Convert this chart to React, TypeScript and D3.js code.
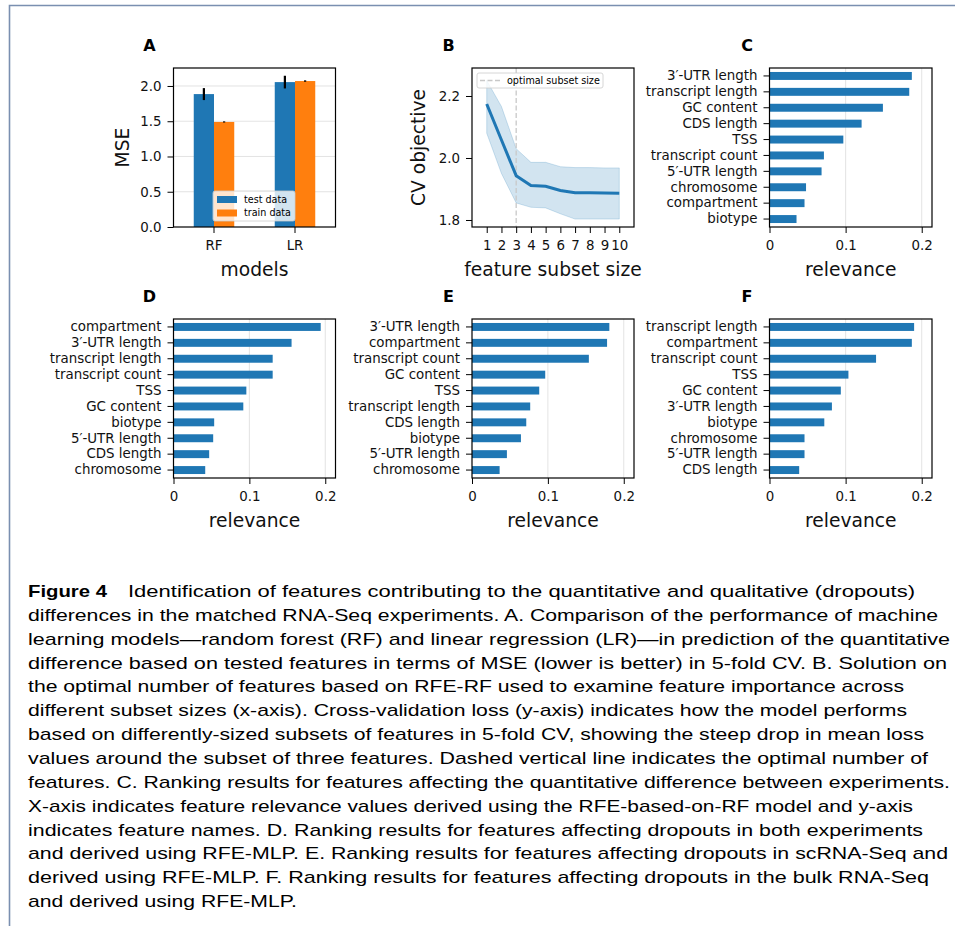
import React, { useEffect, useRef } from 'react';
import * as d3 from 'd3';

// panel A: MSE per model
const models = ['RF', 'LR'];
const mseSeries = ['test data', 'train data'];
const mseTest = [1.885, 2.055];
const mseTestErr = [0.085, 0.09];
const mseTrain = [1.49, 2.07];
const mseTrainErr = [0.008, 0.01];
const mseTicks = [0, 0.5, 1, 1.5, 2];

// panel B: CV objective vs subset size
const subsetSizes = [1, 2, 3, 4, 5, 6, 7, 8, 9, 10];
const cvMean = [2.174, 2.058, 1.943, 1.911, 1.909, 1.895, 1.888, 1.888, 1.887, 1.886];
const cvUpper = [2.25, 2.166, 2.03, 1.986, 1.986, 1.972, 1.969, 1.969, 1.968, 1.968];
const cvLower = [2.08, 1.95, 1.855, 1.841, 1.839, 1.82, 1.803, 1.803, 1.803, 1.803];
const cvTicks = [1.8, 2.0, 2.2];
const optimalSize = 3;

// panels C-F: feature relevance
const cNames = ['3′-UTR length', 'transcript length', 'GC content', 'CDS length', 'TSS', 'transcript count', '5′-UTR length', 'chromosome', 'compartment', 'biotype'];
const cValues = [0.187, 0.1836, 0.149, 0.121, 0.097, 0.0715, 0.0684, 0.048, 0.046, 0.0355];
const dNames = ['compartment', '3′-UTR length', 'transcript length', 'transcript count', 'TSS', 'GC content', 'biotype', '5′-UTR length', 'CDS length', 'chromosome'];
const dValues = [0.194, 0.1556, 0.1307, 0.1307, 0.096, 0.092, 0.0536, 0.0523, 0.047, 0.0418];
const eNames = ['3′-UTR length', 'compartment', 'transcript count', 'GC content', 'TSS', 'transcript length', 'CDS length', 'biotype', '5′-UTR length', 'chromosome'];
const eValues = [0.181, 0.178, 0.154, 0.0965, 0.0886, 0.0767, 0.0715, 0.0645, 0.046, 0.0364];
const fNames = ['transcript length', 'compartment', 'transcript count', 'TSS', 'GC content', '3′-UTR length', 'biotype', 'chromosome', '5′-UTR length', 'CDS length'];
const fValues = [0.19, 0.187, 0.14, 0.1037, 0.0937, 0.082, 0.072, 0.046, 0.046, 0.039];
const relTicks = [0, 0.1, 0.2];

const captionLines = [
  'Identification of features contributing to the quantitative and qualitative (dropouts)',
  'differences in the matched RNA-Seq experiments. A. Comparison of the performance of machine',
  'learning models—random forest (RF) and linear regression (LR)—in prediction of the quantitative',
  'difference based on tested features in terms of MSE (lower is better) in 5-fold CV. B. Solution on',
  'the optimal number of features based on RFE-RF used to examine feature importance across',
  'different subset sizes (x-axis). Cross-validation loss (y-axis) indicates how the model performs',
  'based on differently-sized subsets of features in 5-fold CV, showing the steep drop in mean loss',
  'values around the subset of three features. Dashed vertical line indicates the optimal number of',
  'features. C. Ranking results for features affecting the quantitative difference between experiments.',
  'X-axis indicates feature relevance values derived using the RFE-based-on-RF model and y-axis',
  'indicates feature names. D. Ranking results for features affecting dropouts in both experiments',
  'and derived using RFE-MLP. E. Ranking results for features affecting dropouts in scRNA-Seq and',
  'derived using RFE-MLP. F. Ranking results for features affecting dropouts in the bulk RNA-Seq',
  'and derived using RFE-MLP.',
];
// right end of each caption line in pixels (layout only)
const captionEnds = [915, 938, 950, 947, 904, 907, 924, 928, 950, 913, 923, 948, 929, 297];

const FONT = 'DejaVu Sans, sans-serif';
const BLUE = '#1f77b4';
const ORANGE = '#ff7f0e';
const COLS = [[173.5, 335.5], [472, 634], [769.5, 932]];
const ROWS = [[68, 227], [319, 478]];
const TITLE_X = [149.5, 448.5, 747];
const TITLE_Y = [51, 302];
const REL_MAX = 0.2135;

type Sel = d3.Selection<any, unknown, null, undefined>;

function styleAxis(g: Sel) {
  g.attr('font-family', FONT).attr('font-size', 13.4);
  g.select('.domain').remove();
  g.selectAll('line').attr('stroke', '#000').attr('stroke-width', 1);
  g.selectAll('text').attr('fill', '#111');
}

function frame(svg: Sel, col: number[], row: number[]) {
  svg.append('rect').attr('x', col[0]).attr('y', row[0]).attr('width', col[1] - col[0]).attr('height', row[1] - row[0])
    .attr('fill', 'none').attr('stroke', '#000').attr('stroke-width', 1.2);
}

function title(svg: Sel, x: number, y: number, t: string) {
  svg.append('text').attr('x', x).attr('y', y).attr('text-anchor', 'middle').attr('font-family', FONT)
    .attr('font-weight', 'bold').attr('font-size', 16).text(t);
}

function xLabel(svg: Sel, x: number, y: number, t: string) {
  svg.append('text').attr('x', x).attr('y', y).attr('text-anchor', 'middle').attr('font-family', FONT)
    .attr('font-size', 18.7).attr('fill', '#111').text(t);
}

function yLabel(svg: Sel, x: number, y: number, t: string) {
  svg.append('text').attr('transform', `translate(${x},${y}) rotate(-90)`).attr('text-anchor', 'middle')
    .attr('font-family', FONT).attr('font-size', 18.7).attr('fill', '#111').text(t);
}

function drawMse(svg: Sel) {
  const [x0, x1] = COLS[0];
  const [y0, y1] = ROWS[0];
  const x = d3.scaleBand().domain(models).range([x0, x1]);
  const step = x.step();
  const sub = d3.scaleBand().domain(mseSeries).range([step * 0.25, step * 0.75]);
  const y = d3.scaleLinear().domain([0, 2.255]).range([y1, y0]);
  const g = svg.append('g');

  g.selectAll('.grid').data(mseTicks.slice(1)).join('line').attr('class', 'grid')
    .attr('x1', x0).attr('x2', x1).attr('y1', d => y(d)).attr('y2', d => y(d))
    .attr('stroke', '#b0b0b0').attr('stroke-opacity', 0.35).attr('stroke-width', 1);

  const rows = models.map((m, i) => [
    { m, s: mseSeries[0], v: mseTest[i], e: mseTestErr[i], c: BLUE },
    { m, s: mseSeries[1], v: mseTrain[i], e: mseTrainErr[i], c: ORANGE },
  ]).flat();

  g.selectAll('.bar').data(rows).join('rect').attr('class', 'bar')
    .attr('x', d => x(d.m)! + sub(d.s)!).attr('width', sub.bandwidth())
    .attr('y', d => y(d.v)).attr('height', d => y(0) - y(d.v)).attr('fill', d => d.c);

  g.selectAll('.err').data(rows).join('line').attr('class', 'err')
    .attr('x1', d => x(d.m)! + sub(d.s)! + sub.bandwidth() / 2).attr('x2', d => x(d.m)! + sub(d.s)! + sub.bandwidth() / 2)
    .attr('y1', d => y(d.v - d.e)).attr('y2', d => y(d.v + d.e)).attr('stroke', '#000').attr('stroke-width', 2.2);

  g.append('g').attr('transform', `translate(0,${y1})`)
    .call(d3.axisBottom(x).tickSize(6).tickPadding(7)).call(styleAxis);
  g.append('g').attr('transform', `translate(${x0},0)`)
    .call(d3.axisLeft(y).tickValues(mseTicks).tickFormat(d3.format('.1f')).tickSize(6).tickPadding(6)).call(styleAxis);

  // legend
  const lg = g.append('g');
  lg.append('rect').attr('x', 213).attr('y', 191).attr('width', 82).attr('height', 30).attr('rx', 2)
    .attr('fill', '#fff').attr('fill-opacity', 0.8).attr('stroke', '#cccccc').attr('stroke-width', 0.8);
  mseSeries.forEach((s, i) => {
    lg.append('rect').attr('x', 217).attr('y', 196 + i * 13.5).attr('width', 20).attr('height', 7)
      .attr('fill', i === 0 ? BLUE : ORANGE);
    lg.append('text').attr('x', 244).attr('y', 202.5 + i * 13.5).attr('font-family', FONT)
      .attr('font-size', 9.6).text(s);
  });

  frame(svg, COLS[0], ROWS[0]);
  title(svg, TITLE_X[0], TITLE_Y[0], 'A');
  xLabel(svg, (x0 + x1) / 2, 276, 'models');
  yLabel(svg, 128.5, (y0 + y1) / 2, 'MSE');
}

function drawCv(svg: Sel) {
  const [x0, x1] = COLS[1];
  const [y0, y1] = ROWS[0];
  const x = d3.scaleLinear().domain([0, 11]).range([x0, x1]);
  const y = d3.scaleLinear().domain([1.7774, 2.2903]).range([y1, y0]);
  const g = svg.append('g');
  const idx = d3.range(subsetSizes.length);

  const area = d3.area<number>().x(i => x(subsetSizes[i])).y0(i => y(cvLower[i])).y1(i => y(cvUpper[i]));
  g.append('path').attr('d', area(idx)).attr('fill', BLUE).attr('fill-opacity', 0.2)
    .attr('stroke', BLUE).attr('stroke-opacity', 0.2).attr('stroke-width', 1);

  g.append('line').attr('x1', x(optimalSize)).attr('x2', x(optimalSize)).attr('y1', y0).attr('y2', y1)
    .attr('stroke', '#c8c8c8').attr('stroke-width', 1.3).attr('stroke-dasharray', '5,2.5');

  const line = d3.line<number>().x(i => x(subsetSizes[i])).y(i => y(cvMean[i]));
  g.append('path').attr('d', line(idx)).attr('fill', 'none').attr('stroke', BLUE).attr('stroke-width', 3);

  g.append('g').attr('transform', `translate(0,${y1})`)
    .call(d3.axisBottom(x).tickValues(subsetSizes).tickFormat(d3.format('d')).tickSize(6).tickPadding(7)).call(styleAxis);
  g.append('g').attr('transform', `translate(${x0},0)`)
    .call(d3.axisLeft(y).tickValues(cvTicks).tickFormat(d3.format('.1f')).tickSize(6).tickPadding(6)).call(styleAxis);

  const lg = g.append('g');
  lg.append('rect').attr('x', 477).attr('y', 73).attr('width', 126).attr('height', 15).attr('rx', 2)
    .attr('fill', '#fff').attr('fill-opacity', 0.8).attr('stroke', '#cccccc').attr('stroke-width', 0.8);
  lg.append('line').attr('x1', 480).attr('x2', 500).attr('y1', 80.5).attr('y2', 80.5)
    .attr('stroke', '#c8c8c8').attr('stroke-width', 1.3).attr('stroke-dasharray', '5,2.5');
  lg.append('text').attr('x', 507).attr('y', 84).attr('font-family', FONT).attr('font-size', 9.6)
    .text('optimal subset size');

  frame(svg, COLS[1], ROWS[0]);
  title(svg, TITLE_X[1], TITLE_Y[0], 'B');
  xLabel(svg, (x0 + x1) / 2, 276, 'feature subset size');
  yLabel(svg, 424.5, (y0 + y1) / 2, 'CV objective');
}

function drawRelevance(svg: Sel, c: number, r: number, t: string, names: string[], values: number[]) {
  const [x0, x1] = COLS[c];
  const [y0, y1] = ROWS[r];
  const x = d3.scaleLinear().domain([0, REL_MAX]).range([x0, x1]);
  const y = d3.scaleBand().domain(names).range([y0, y1]).paddingInner(0.5).paddingOuter(0.25);
  const g = svg.append('g');

  g.selectAll('.grid').data(relTicks.slice(1)).join('line').attr('class', 'grid')
    .attr('x1', d => x(d)).attr('x2', d => x(d)).attr('y1', y0).attr('y2', y1)
    .attr('stroke', '#b0b0b0').attr('stroke-opacity', 0.35).attr('stroke-width', 1);

  g.selectAll('.bar').data(names).join('rect').attr('class', 'bar')
    .attr('x', x(0)).attr('y', d => y(d)!).attr('height', y.bandwidth())
    .attr('width', (d, i) => x(values[i]) - x(0)).attr('fill', BLUE);

  g.append('g').attr('transform', `translate(0,${y1})`)
    .call(d3.axisBottom(x).tickValues(relTicks).tickFormat(d3.format('')).tickSize(6).tickPadding(7)).call(styleAxis);
  g.append('g').attr('transform', `translate(${x0},0)`)
    .call(d3.axisLeft(y).tickSize(6).tickPadding(6)).call(styleAxis);

  frame(svg, COLS[c], ROWS[r]);
  title(svg, TITLE_X[c], TITLE_Y[r], t);
  xLabel(svg, (x0 + x1) / 2, r === 0 ? 275.5 : 527, 'relevance');
}

function drawCaption(svg: Sel) {
  const g = svg.append('g').attr('font-family', 'Liberation Sans, Arial, sans-serif').attr('font-size', 17).attr('fill', '#000');
  g.append('text').attr('x', 28).attr('y', 597).attr('font-weight', 'bold')
    .attr('textLength', 79).attr('lengthAdjust', 'spacingAndGlyphs').text('Figure 4');
  captionLines.forEach((line, i) => {
    const left = i === 0 ? 128 : 28;
    g.append('text').attr('x', left).attr('y', 597 + i * 23.85)
      .attr('textLength', captionEnds[i] - left).attr('lengthAdjust', 'spacingAndGlyphs').text(line);
  });
}

export default function App() {
  const ref = useRef<SVGSVGElement>(null);

  useEffect(() => {
    const svg = d3.select(ref.current) as Sel;
    svg.selectAll('*').remove();

    svg.append('path').attr('d', 'M9.5,926V5.5H955').attr('fill', 'none')
      .attr('stroke', '#7a8fb0').attr('stroke-width', 1.6);

    drawMse(svg);
    drawCv(svg);
    drawRelevance(svg, 2, 0, 'C', cNames, cValues);
    drawRelevance(svg, 0, 1, 'D', dNames, dValues);
    drawRelevance(svg, 1, 1, 'E', eNames, eValues);
    drawRelevance(svg, 2, 1, 'F', fNames, fValues);
    drawCaption(svg);
  }, []);

  return (
    <svg ref={ref} width={955} height={926}
      style={{ position: 'absolute', left: 0, top: 0, background: '#fff' }} />
  );
}
